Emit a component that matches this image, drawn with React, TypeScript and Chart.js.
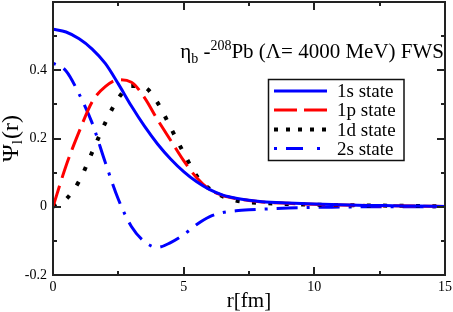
import React, { useEffect, useRef } from 'react';
import { Chart, registerables } from 'chart.js';

Chart.register(...registerables);

const radius = [0, 0.5, 1, 1.5, 2, 2.5, 3, 3.5, 4, 4.5, 5, 5.5, 6, 6.5, 7, 7.5, 8, 9, 10, 11, 12, 13, 14, 15];
const state1s = [0.52, 0.512, 0.492, 0.462, 0.42, 0.36, 0.295, 0.236, 0.184, 0.14, 0.103, 0.073, 0.05, 0.034, 0.025, 0.019, 0.015, 0.011, 0.008, 0.006, 0.004, 0.003, 0.002, 0.001];
const state1p = [0, 0.12, 0.22, 0.308, 0.352, 0.372, 0.365, 0.32, 0.255, 0.195, 0.135, 0.085, 0.05, 0.033, 0.024, 0.018, 0.014, 0.01, 0.007, 0.005, 0.004, 0.003, 0.002, 0.001];
const state1d = [0, 0.022, 0.075, 0.16, 0.246, 0.318, 0.354, 0.35, 0.305, 0.232, 0.158, 0.09, 0.052, 0.03, 0.018, 0.013, 0.011, 0.008, 0.006, 0.005, 0.004, 0.003, 0.002, 0.001];
const state2s = [0.421, 0.398, 0.33, 0.245, 0.13, 0.022, -0.058, -0.102, -0.119, -0.105, -0.082, -0.052, -0.029, -0.017, -0.012, -0.009, -0.007, -0.004, -0.002, -0.001, 0, 0, 0, 0];

const seriesLabels = ['1s state', '1p state', '1d state', '2s state'];
const xMajorTicks = [0, 5, 10, 15];
const xMinorTicks = [2.5, 7.5, 12.5];
const yMajorTicks = [-0.2, 0, 0.2, 0.4, 0.6];
const yTickLabels = ['-0.2', '0', '0.2', '0.4', ''];
const yMinorTicks = [-0.1, 0.1, 0.3, 0.5];

const SERIF = '"Liberation Serif", "Times New Roman", serif';

const legendStyles = [
  { color: '#0000ff', dash: [] as number[] },
  { color: '#ff0000', dash: [23, 7] },
  { color: '#000000', dash: [4, 8], width: 4 },
  { color: '#0000ff', dash: [3, 9, 17, 14] },
];

const decorPlugin = {
  id: 'decor',
  afterDatasetsDraw(chart: any) {
    const { ctx, chartArea: a, scales } = chart;
    const x = scales.x;
    const y = scales.y;
    ctx.save();
    ctx.strokeStyle = '#222';
    ctx.lineWidth = 2;
    ctx.setLineDash([]);
    ctx.strokeRect(a.left, a.top, a.right - a.left, a.bottom - a.top);
    const xt = (v: number, len: number) => {
      const px = Math.round(x.getPixelForValue(v));
      ctx.beginPath();
      ctx.moveTo(px, a.bottom); ctx.lineTo(px, a.bottom - len);
      ctx.moveTo(px, a.top); ctx.lineTo(px, a.top + len);
      ctx.stroke();
    };
    const yt = (v: number, len: number) => {
      const py = Math.round(y.getPixelForValue(v));
      ctx.beginPath();
      ctx.moveTo(a.left, py); ctx.lineTo(a.left + len, py);
      ctx.moveTo(a.right, py); ctx.lineTo(a.right - len, py);
      ctx.stroke();
    };
    xMajorTicks.forEach((v) => xt(v, 8));
    xMinorTicks.forEach((v) => xt(v, 4));
    yMajorTicks.forEach((v) => yt(v, 8));
    yMinorTicks.forEach((v) => yt(v, 4));

    ctx.fillStyle = '#000';
    ctx.font = `21px ${SERIF}`;
    ctx.textAlign = 'center';
    ctx.textBaseline = 'alphabetic';
    ctx.fillText('r[fm]', (a.left + a.right) / 2, 307);

    ctx.save();
    const cy = (a.top + a.bottom) / 2;
    ctx.translate(18, cy);
    ctx.rotate(-Math.PI / 2);
    ctx.textAlign = 'left';
    const bigFont = `24px ${SERIF}`;
    const smallFont = `15px ${SERIF}`;
    ctx.font = bigFont;
    const wPsi = ctx.measureText('Ψ').width;
    const wR = ctx.measureText('(r)').width;
    ctx.font = smallFont;
    const wL = ctx.measureText('l').width;
    const total = wPsi + wL + 1 + wR;
    let cx = -total / 2;
    ctx.font = bigFont;
    ctx.fillText('Ψ', cx, 0);
    cx += wPsi;
    ctx.font = smallFont;
    ctx.fillText('l', cx, 4);
    cx += wL + 1;
    ctx.font = bigFont;
    ctx.fillText('(r)', cx, 0);
    ctx.restore();

    const tFont = `21px ${SERIF}`;
    const sFont = `14px ${SERIF}`;
    const parts = [
      { t: 'η', f: tFont, dy: 0 },
      { t: 'b', f: sFont, dy: 5 },
      { t: ' -', f: tFont, dy: 0 },
      { t: '208', f: sFont, dy: -8 },
      { t: 'Pb (Λ= 4000 MeV) FWS', f: tFont, dy: 0 },
    ];
    let tw = 0;
    parts.forEach((p) => { ctx.font = p.f; tw += ctx.measureText(p.t).width; });
    let tx = 444 - tw;
    const base = 58;
    ctx.textAlign = 'left';
    parts.forEach((p) => {
      ctx.font = p.f;
      ctx.fillText(p.t, tx, base + p.dy);
      tx += ctx.measureText(p.t).width;
    });

    const bx = 268.5, by = 79.5, bw = 135.5, bh = 81;
    ctx.fillStyle = '#fff';
    ctx.fillRect(bx, by, bw, bh);
    ctx.strokeStyle = '#111';
    ctx.lineWidth = 1.5;
    ctx.strokeRect(bx, by, bw, bh);
    const rows = [91, 110, 129.5, 148.5];
    chart.data.datasets.forEach((ds: any, i: number) => {
      const st = legendStyles[i];
      ctx.strokeStyle = st.color;
      ctx.lineWidth = st.width || 3;
      ctx.lineCap = 'butt';
      ctx.setLineDash(st.dash);
      ctx.beginPath();
      ctx.moveTo(274, rows[i]);
      ctx.lineTo(327, rows[i]);
      ctx.stroke();
      ctx.setLineDash([]);
      ctx.fillStyle = '#000';
      ctx.font = `19px ${SERIF}`;
      ctx.fillText(ds.label, 337, rows[i] + 6);
    });
    ctx.restore();
  },
};

export default function App() {
  const ref = useRef<HTMLCanvasElement | null>(null);
  useEffect(() => {
    if (!ref.current) return;
    const mk = (vals: number[]) => radius.map((r, i) => ({ x: r, y: vals[i] }));
    const chart = new Chart(ref.current, {
      type: 'line',
      data: {
        datasets: [
          { label: seriesLabels[0], data: mk(state1s), borderColor: '#0000ff', borderWidth: 3, pointRadius: 0, cubicInterpolationMode: 'monotone', fill: false },
          { label: seriesLabels[1], data: mk(state1p), borderColor: '#ff0000', borderWidth: 3, borderDash: [22, 8], pointRadius: 0, cubicInterpolationMode: 'monotone', fill: false },
          { label: seriesLabels[2], data: mk(state1d), borderColor: '#000000', borderWidth: 4, borderDash: [4, 12.4], pointRadius: 0, cubicInterpolationMode: 'monotone', fill: false },
          { label: seriesLabels[3], data: mk(state2s), borderColor: '#0000ff', borderWidth: 3, borderDash: [3, 9, 21, 9], pointRadius: 0, cubicInterpolationMode: 'monotone', fill: false },
        ],
      },
      options: {
        responsive: false,
        animation: false,
        devicePixelRatio: 1,
        layout: { padding: { top: 2, right: 8, left: 0, bottom: 0 } },
        plugins: { legend: { display: false }, tooltip: { enabled: false }, title: { display: false } },
        scales: {
          x: {
            type: 'linear',
            min: 0,
            max: 15,
            grid: { display: false, drawTicks: false },
            border: { display: false },
            afterBuildTicks: (s: any) => { s.ticks = xMajorTicks.map((v) => ({ value: v })); },
            afterFit: (s: any) => { s.height = 37; s.paddingLeft = 0; s.paddingRight = 0; s.paddingTop = 0; s.paddingBottom = 0; },
            ticks: {
              autoSkip: false,
              maxRotation: 0,
              padding: 4,
              color: '#000',
              font: { family: SERIF, size: 14 },
              callback: (v: any) => String(v),
            },
          },
          y: {
            type: 'linear',
            min: -0.2,
            max: 0.6,
            grid: { display: false, drawTicks: false },
            border: { display: false },
            afterBuildTicks: (s: any) => { s.ticks = yMajorTicks.map((v) => ({ value: v })); },
            afterFit: (s: any) => { s.width = 53; s.paddingLeft = 0; s.paddingRight = 0; s.paddingTop = 0; s.paddingBottom = 0; },
            ticks: {
              autoSkip: false,
              padding: 6,
              color: '#000',
              font: { family: SERIF, size: 14 },
              callback: (v: any) => {
                const i = yMajorTicks.findIndex((t) => Math.abs(t - Number(v)) < 1e-6);
                return i >= 0 ? yTickLabels[i] : '';
              },
            },
          },
        },
      },
      plugins: [decorPlugin],
    } as any);
    return () => chart.destroy();
  }, []);
  return (
    <div style={{ position: 'fixed', left: 0, top: 0, width: 453, height: 312, background: '#fff' }}>
      <canvas ref={ref} width={453} height={312} style={{ width: 453, height: 312, display: 'block' }} />
    </div>
  );
}
